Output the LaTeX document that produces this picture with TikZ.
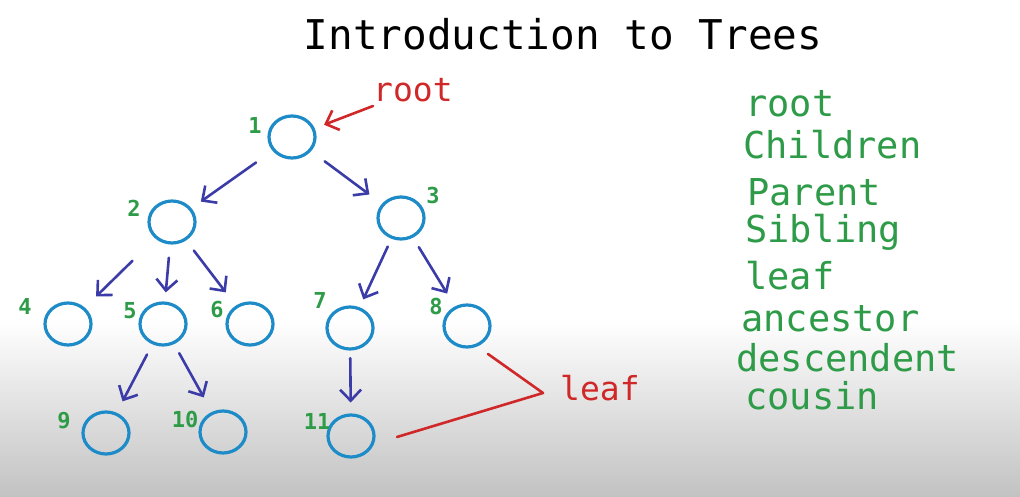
\documentclass[tikz,border=0pt]{standalone}
\usepackage{fontspec}
\usetikzlibrary{shapes.geometric,arrows.meta,calc}
\newfontfamily\hand{DejaVu Sans Mono}
\definecolor{nodeblue}{HTML}{1E8BC9}
\definecolor{edgeblue}{HTML}{3C3CA8}
\definecolor{termgreen}{HTML}{2E9B48}
\definecolor{markred}{HTML}{D02828}
\definecolor{floorgray}{RGB}{194,194,194}
\begin{document}
\begin{tikzpicture}[x=1pt,y=-1pt,
  treenode/.style={ellipse, draw=nodeblue, line width=3.2pt, minimum width=46pt, minimum height=42pt, inner sep=0pt},
  edge/.style={edgeblue, line width=2.6pt, line cap=round, -{Straight Barb[length=11pt,width=21pt]}},
  rootarrow/.style={markred, line width=2.6pt, line cap=round, -{Straight Barb[length=11pt,width=21pt]}},
  leafline/.style={markred, line width=2.6pt, line cap=round, line join=round},
  numlbl/.style={text=termgreen, font=\hand\bfseries\fontsize{22}{22}\selectfont, inner sep=0pt},
  term/.style={text=termgreen, font=\hand\fontsize{37}{37}\selectfont, inner sep=0pt, anchor=base west},
  redterm/.style={text=markred, font=\hand\fontsize{33}{33}\selectfont, inner sep=0pt, anchor=base west},
  titletext/.style={text=black, font=\hand\fontsize{41}{41}\selectfont, inner sep=0pt, anchor=base}]
\useasboundingbox (0,0) rectangle (1020,497);
% background
\fill[white] (0,0) rectangle (1020,322);
\begin{scope}[y=1pt]
  \fill[top color=white, bottom color=floorgray] (0,-497) rectangle (1020,-320);
\end{scope}
% title
\node[titletext] (title) at (563,50) {Introduction to Trees};
% tree nodes
\node[treenode] (n1) at (292,137) {};
\node[treenode] (n2) at (172,222) {};
\node[treenode] (n3) at (401,218) {};
\node[treenode] (n4) at (68,324) {};
\node[treenode] (n5) at (163,324) {};
\node[treenode] (n6) at (250,324) {};
\node[treenode] (n7) at (350,328) {};
\node[treenode] (n8) at (467,326) {};
\node[treenode] (n9) at (106,433) {};
\node[treenode] (n10) at (223,432) {};
\node[treenode] (n11) at (351,436) {};
% number labels
\node[numlbl] (l1) at (255,125) {1};
\node[numlbl] (l2) at (134,208) {2};
\node[numlbl] (l3) at (433,195) {3};
\node[numlbl] (l4) at (25,306) {4};
\node[numlbl] (l5) at (130,311) {5};
\node[numlbl] (l6) at (217,310) {6};
\node[numlbl] (l7) at (320,300) {7};
\node[numlbl] (l8) at (436,306) {8};
\node[numlbl] (l9) at (64,421) {9};
\node[numlbl] (l10) at (185,419) {10};
\node[numlbl] (l11) at (317,421) {11};
% edges
\draw[edge] ($(n1)!0.30!(n2)$) -- ($(n1)!0.76!(n2)$);
\draw[edge] ($(n1)!0.30!(n3)$) -- ($(n1)!0.71!(n3)$);
\draw[edge] ($(n2)!0.38!(n4)$) -- ($(n2)!0.73!(n4)$);
\draw[edge] ($(n2)!0.35!(n5)$) -- ($(n2)!0.69!(n5)$);
\draw[edge] ($(n2)!0.28!(n6)$) -- ($(n2)!0.69!(n6)$);
\draw[edge] ($(n3)!0.26!(n7)$) -- ($(n3)!0.74!(n7)$);
\draw[edge] ($(n3)!0.27!(n8)$) -- ($(n3)!0.70!(n8)$);
\draw[edge] ($(n5)!0.28!(n9)$) -- ($(n5)!0.71!(n9)$);
\draw[edge] ($(n5)!0.27!(n10)$) -- ($(n5)!0.68!(n10)$);
\draw[edge] ($(n7)!0.28!(n11)$) -- ($(n7)!0.69!(n11)$);
% root annotation
\node[redterm] (rootlbl) at (373,102) {root};
\coordinate (rootfrom) at (373,106);
\draw[rootarrow, shorten >=10pt] (rootfrom) -- (n1);
% leaf annotation
\node[redterm] (leaflbl) at (560,400) {leaf};
\coordinate (leafjoin) at (543,393);
\draw[leafline] ([shift={(21,28)}]n8.center) -- (leafjoin) -- ([shift={(46,1)}]n11.center);
% terms list
\node[term] (tRoot) at (745,117) {root};
\node[term] (tChildren) at (743,159) {Children};
\node[term] (tParent) at (747,206) {Parent};
\node[term] (tSibling) at (745,243) {Sibling};
\node[term] (tLeaf) at (745,289) {leaf};
\node[term] (tAncestor) at (741,331) {ancestor};
\node[term] (tDescendent) at (736,371) {descendent};
\node[term] (tCousin) at (745,409) {cousin};
\end{tikzpicture}
\end{document}
